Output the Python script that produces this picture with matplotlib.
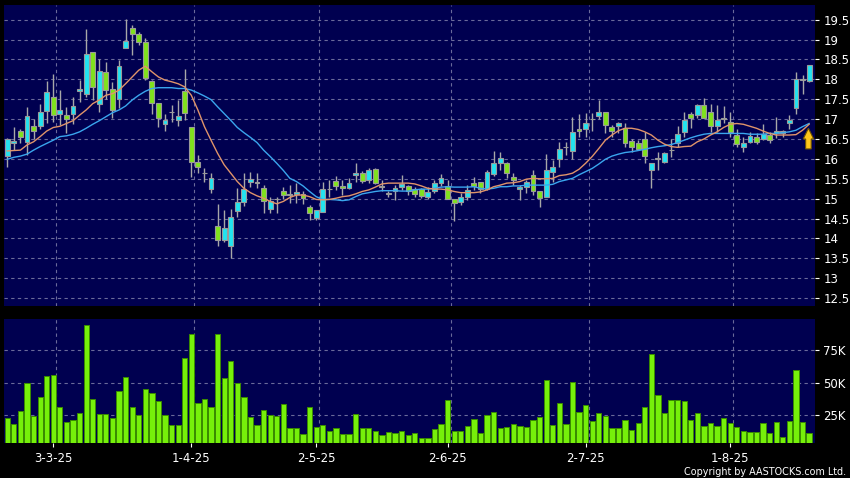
import matplotlib
matplotlib.use("Agg")
import matplotlib.pyplot as plt
import numpy as np
import pandas as pd
from matplotlib.patches import FancyArrow
from matplotlib.ticker import FixedLocator, FuncFormatter

# ---------------- data ----------------
start_date = "2025-02-20"
end_date = "2025-08-19"
holidays = ["2025-04-04", "2025-04-18", "2025-04-21", "2025-05-01", "2025-05-05", "2025-07-01"]

opens = [16.07, 16.40, 16.69, 16.42, 16.83, 16.82, 17.20, 17.56, 17.13, 17.11,
         17.12, 17.70, 17.64, 18.69, 17.38, 18.19, 17.75, 17.50, 18.80, 19.29,
         19.15, 18.94, 17.95, 17.40, 16.87, 17.17, 16.99, 17.70, 16.80, 15.93,
         15.64, 15.24, 14.32, 13.96, 13.80, 14.70, 14.91, 15.43, 15.39, 15.26,
         14.73, 14.98, 15.19, 15.10, 15.11, 15.12, 14.78, 14.51, 14.66, 15.23,
         15.44, 15.33, 15.28, 15.60, 15.64, 15.46, 15.74, 15.30, 15.12, 15.20,
         15.30, 15.32, 15.25, 15.23, 15.05, 15.20, 15.39, 15.33, 14.98, 14.91,
         15.04, 15.39, 15.41, 15.24, 15.61, 15.89, 15.89, 15.55, 15.24, 15.29,
         15.60, 15.19, 15.03, 15.66, 15.99, 16.29, 16.21, 16.74, 16.74, 17.00,
         17.09, 17.18, 16.79, 16.82, 16.77, 16.45, 16.41, 16.49, 15.72, 16.00,
         15.93, 16.22, 16.41, 16.68, 17.14, 17.10, 17.35, 17.18, 16.82, 17.00,
         16.93, 16.60, 16.31, 16.43, 16.54, 16.51, 16.61, 16.64, 16.64, 16.89,
         17.29, 17.98, 17.96]
highs = [16.52, 16.80, 16.75, 17.31, 17.00, 17.39, 17.96, 18.13, 17.72, 17.30,
         17.56, 17.98, 19.27, 18.70, 18.52, 18.44, 17.94, 18.48, 19.52, 19.36,
         19.18, 19.05, 17.98, 17.40, 17.13, 17.35, 17.48, 18.25, 16.80, 16.10,
         15.76, 15.64, 14.87, 14.72, 14.73, 15.26, 15.64, 15.68, 15.64, 15.34,
         15.05, 15.05, 15.30, 15.34, 15.40, 15.18, 14.83, 14.72, 15.43, 15.47,
         15.57, 15.47, 15.51, 15.90, 15.70, 15.76, 15.76, 15.47, 15.18, 15.34,
         15.60, 15.34, 15.30, 15.26, 15.30, 15.47, 15.62, 15.47, 14.98, 15.14,
         15.34, 15.55, 15.43, 15.72, 16.20, 16.18, 15.91, 15.64, 15.34, 15.47,
         15.72, 15.19, 16.12, 15.97, 16.43, 16.43, 17.06, 17.14, 17.16, 17.16,
         17.49, 17.18, 16.85, 16.93, 16.89, 16.49, 16.47, 16.67, 15.90, 16.18,
         16.18, 16.51, 16.83, 17.18, 17.18, 17.39, 17.52, 17.39, 17.35, 17.34,
         17.18, 16.74, 16.56, 16.68, 16.66, 16.87, 16.68, 17.06, 16.72, 17.10,
         18.19, 18.11, 18.37]
lows = [15.80, 16.22, 16.40, 16.10, 16.50, 16.75, 16.90, 16.93, 16.85, 16.64,
        16.88, 17.43, 17.55, 17.48, 17.18, 17.50, 17.02, 17.29, 18.78, 18.60,
        18.86, 17.98, 17.12, 16.80, 16.71, 16.93, 16.82, 16.99, 15.55, 15.64,
        15.43, 15.15, 13.80, 13.90, 13.50, 14.55, 14.82, 15.30, 15.26, 14.63,
        14.63, 14.63, 14.98, 14.88, 14.88, 14.87, 14.47, 14.47, 14.66, 15.05,
        15.22, 15.10, 15.23, 15.42, 15.40, 15.39, 15.37, 15.18, 15.03, 14.97,
        15.22, 15.09, 15.04, 15.01, 14.99, 15.15, 15.32, 14.98, 14.43, 14.83,
        14.97, 15.22, 15.14, 15.22, 15.57, 15.72, 15.51, 15.34, 14.97, 15.14,
        15.09, 14.80, 15.03, 15.43, 15.80, 16.10, 15.99, 16.56, 16.56, 16.71,
        17.00, 16.64, 16.54, 16.64, 16.30, 16.18, 16.22, 15.89, 15.28, 15.72,
        15.90, 16.05, 16.31, 16.56, 16.77, 17.02, 17.02, 16.68, 16.68, 16.91,
        16.56, 16.30, 16.18, 16.39, 16.37, 16.47, 16.41, 16.52, 16.56, 16.74,
        17.14, 17.64, 17.94]
closes = [16.49, 16.45, 16.56, 17.07, 16.70, 17.19, 17.67, 17.10, 17.24, 17.00,
          17.34, 17.77, 18.65, 17.81, 18.21, 17.74, 17.24, 18.34, 18.97, 19.15,
          18.94, 18.04, 17.40, 17.02, 16.99, 17.18, 17.09, 17.16, 15.91, 15.79,
          15.65, 15.53, 13.96, 14.27, 14.53, 14.91, 15.25, 15.49, 15.41, 14.93,
          14.94, 15.00, 15.08, 15.12, 15.16, 15.01, 14.63, 14.72, 15.23, 15.24,
          15.33, 15.28, 15.40, 15.65, 15.44, 15.72, 15.40, 15.31, 15.13, 15.26,
          15.38, 15.18, 15.12, 15.07, 15.16, 15.39, 15.51, 14.98, 14.88, 15.04,
          15.22, 15.32, 15.24, 15.68, 15.89, 16.01, 15.65, 15.47, 15.29, 15.41,
          15.20, 15.01, 15.71, 15.80, 16.25, 16.31, 16.68, 16.69, 16.91, 17.01,
          17.18, 16.85, 16.69, 16.89, 16.41, 16.31, 16.24, 16.08, 15.89, 16.01,
          16.14, 16.23, 16.62, 16.99, 17.04, 17.35, 17.04, 16.82, 16.97, 17.04,
          16.68, 16.37, 16.39, 16.57, 16.43, 16.62, 16.47, 16.70, 16.69, 16.99,
          18.00, 18.00, 18.37]
ma10 = [16.20, 16.21, 16.22, 16.35, 16.43, 16.56, 16.70, 16.79, 16.82, 16.89,
        16.96, 17.10, 17.23, 17.39, 17.48, 17.60, 17.64, 17.73, 17.89, 18.06,
        18.23, 18.33, 18.19, 18.06, 17.98, 17.94, 17.89, 17.81, 17.60, 17.23,
        16.81, 16.47, 16.14, 15.85, 15.64, 15.43, 15.26, 15.15, 15.07, 15.01,
        14.93, 14.87, 14.93, 15.03, 15.09, 15.09, 15.05, 14.98, 14.97, 14.98,
        15.01, 15.05, 15.07, 15.12, 15.18, 15.22, 15.29, 15.37, 15.39, 15.39,
        15.39, 15.39, 15.37, 15.32, 15.26, 15.24, 15.24, 15.22, 15.18, 15.15,
        15.15, 15.15, 15.17, 15.22, 15.30, 15.34, 15.39, 15.40, 15.43, 15.49,
        15.51, 15.50, 15.50, 15.51, 15.58, 15.60, 15.64, 15.74, 15.89, 16.06,
        16.26, 16.47, 16.60, 16.71, 16.77, 16.77, 16.74, 16.68, 16.60, 16.47,
        16.37, 16.31, 16.29, 16.31, 16.32, 16.43, 16.50, 16.60, 16.68, 16.79,
        16.87, 16.89, 16.87, 16.82, 16.77, 16.70, 16.64, 16.60, 16.60, 16.60,
        16.61, 16.72, 16.87]
ma20 = [15.99, 16.04, 16.07, 16.12, 16.22, 16.31, 16.39, 16.47, 16.56, 16.58,
        16.62, 16.68, 16.77, 16.87, 16.96, 17.06, 17.16, 17.23, 17.33, 17.48,
        17.60, 17.70, 17.77, 17.79, 17.79, 17.79, 17.77, 17.77, 17.73, 17.66,
        17.58, 17.49, 17.31, 17.14, 16.97, 16.79, 16.66, 16.54, 16.41, 16.22,
        16.06, 15.89, 15.71, 15.51, 15.43, 15.32, 15.18, 15.05, 14.98, 14.98,
        14.97, 14.95, 14.97, 15.05, 15.12, 15.15, 15.18, 15.20, 15.20, 15.20,
        15.19, 15.19, 15.22, 15.24, 15.24, 15.26, 15.29, 15.30, 15.29, 15.29,
        15.29, 15.30, 15.26, 15.24, 15.26, 15.30, 15.30, 15.32, 15.32, 15.34,
        15.34, 15.34, 15.34, 15.36, 15.43, 15.47, 15.51, 15.60, 15.68, 15.76,
        15.87, 15.99, 16.07, 16.12, 16.16, 16.18, 16.21, 16.24, 16.28, 16.31,
        16.33, 16.36, 16.41, 16.47, 16.53, 16.58, 16.62, 16.64, 16.64, 16.64,
        16.64, 16.64, 16.64, 16.62, 16.62, 16.62, 16.64, 16.64, 16.66, 16.68,
        16.72, 16.81, 16.89]
volumes_k = [23.2, 18.3, 28.3, 49.8, 24.7, 39.1, 55.5, 56.1, 31.2, 20.1,
             21.4, 26.5, 94.5, 37.3, 26.0, 25.8, 22.7, 43.7, 54.2, 31.7,
             25.3, 45.0, 42.2, 36.0, 25.3, 17.6, 17.6, 69.1, 87.8, 34.2,
             37.6, 31.7, 87.3, 54.0, 66.5, 49.6, 39.4, 24.0, 17.6, 29.4,
             25.5, 24.7, 33.5, 15.0, 15.0, 10.4, 31.7, 16.0, 17.3, 12.9,
             15.5, 10.9, 10.9, 25.8, 15.0, 15.0, 12.9, 9.6, 12.4, 11.4,
             13.2, 9.9, 11.2, 7.8, 7.8, 14.7, 18.1, 36.5, 13.2, 13.2,
             17.1, 22.4, 11.7, 25.3, 27.6, 15.5, 16.3, 18.6, 16.8, 16.3,
             21.2, 23.7, 51.9, 17.6, 34.2, 18.3, 50.6, 27.8, 32.9, 20.6,
             26.5, 24.7, 15.0, 15.3, 21.4, 13.7, 19.4, 31.7, 72.4, 40.4,
             26.5, 37.0, 37.0, 36.0, 21.2, 27.1, 16.8, 18.8, 16.8, 23.2,
             19.1, 15.8, 13.2, 11.9, 12.4, 19.1, 11.2, 19.9, 8.3, 20.6,
             59.6, 20.1, 11.7]
price_ticks = [12.5, 13, 13.5, 14, 14.5, 15, 15.5, 16, 16.5, 17, 17.5, 18, 18.5, 19, 19.5]
volume_ticks = [25000, 50000, 75000]
copyright_text = "Copyright by AASTOCKS.com Ltd."

# ---------------- derived ----------------
dates = pd.bdate_range(start_date, end_date)
dates = dates[~dates.isin(pd.to_datetime(holidays))]
n = len(closes)
x = np.arange(n)
o = np.array(opens); h = np.array(highs); l = np.array(lows); c = np.array(closes)
vol = np.array(volumes_k) * 1000

month_start = [i for i in range(n) if i == 0 or dates[i].month != dates[i - 1].month][1:]
month_labels = [f"{dates[i].day}-{dates[i].month}-{dates[i].year % 100}" for i in month_start]

# ---------------- style ----------------
BG = "black"
PANEL = "#000050"
GRID = "#6a6a9a"
UP = "#22e3f0"
DOWN = "#80e21c"
EDGE = "#9a9a9a"
WICK = "#a8a8a8"

W, H = 850, 478
fig = plt.figure(figsize=(W / 100, H / 100), dpi=100, facecolor=BG)
ax1 = fig.add_axes([4 / W, 1 - 306 / H, 811 / W, 301 / H], facecolor=PANEL)
ax2 = fig.add_axes([4 / W, 1 - 443.3 / H, 811 / W, (443.3 - 319) / H], facecolor=PANEL)

for ax in (ax1, ax2):
    ax.set_xlim(-0.5, 122.9)
    for s in ax.spines.values():
        s.set_visible(False)
    for i in month_start:
        ax.axvline(i + 0.45, color=GRID, lw=0.8, ls=(0, (3, 3)), zorder=0)
    ax.yaxis.tick_right()
    ax.tick_params(axis="y", colors="white", labelcolor="white", labelsize=8.5,
                   length=3, width=0.8, pad=3, direction="out")

# price panel
ax1.set_ylim(12.3, 19.87)
for t in price_ticks:
    ax1.axhline(t, color=GRID, lw=0.8, ls=(0, (3, 3)), zorder=0)
ax1.yaxis.set_major_locator(FixedLocator(price_ticks))
ax1.yaxis.set_major_formatter(FuncFormatter(lambda v, p: f"{v:g}"))
ax1.set_xticks([])

up = c >= o
ax1.vlines(x, l, h, color=WICK, lw=1.0, zorder=2)
body_bottom = np.minimum(o, c)
body_height = np.maximum(np.abs(c - o), 0.012)
ax1.bar(x[up], body_height[up], bottom=body_bottom[up], width=0.74,
        color=UP, edgecolor=EDGE, linewidth=0.8, zorder=3)
ax1.bar(x[~up], body_height[~up], bottom=body_bottom[~up], width=0.74,
        color=DOWN, edgecolor=EDGE, linewidth=0.8, zorder=3)
ax1.plot(x, ma20, color="#3aa6ee", lw=1.0, zorder=4)
ax1.plot(x, ma10, color="#e0946a", lw=1.0, zorder=4)

arrow = FancyArrow(121.9, 16.25, 0, 0.52, width=0.85, head_width=1.6, head_length=0.27,
                   length_includes_head=True, facecolor="#ffc61a", edgecolor="#6e5200",
                   linewidth=0.8, zorder=6)
ax1.add_patch(arrow)

# volume panel
ax2.set_ylim(3500, 99000)
for t in volume_ticks:
    ax2.axhline(t, color=GRID, lw=0.8, ls=(0, (3, 3)), zorder=0)
ax2.bar(x, vol, width=0.8, color="#76f00a", edgecolor="#3a8c00", linewidth=0.7, zorder=3)
ax2.yaxis.set_major_locator(FixedLocator(volume_ticks))
ax2.yaxis.set_major_formatter(FuncFormatter(lambda v, p: f"{int(v / 1000)}K"))
ax2.set_xticks(month_start)
ax2.set_xticklabels(month_labels)
ax2.tick_params(axis="x", colors="white", labelcolor="white", labelsize=8.5,
                length=3, width=0.8, pad=3, direction="out")

fig.text(846 / W, 1 - 472 / H, copyright_text, ha="right", va="center",
         color="white", fontsize=6.9)

fig.savefig("out.png", dpi=100, facecolor=BG)
